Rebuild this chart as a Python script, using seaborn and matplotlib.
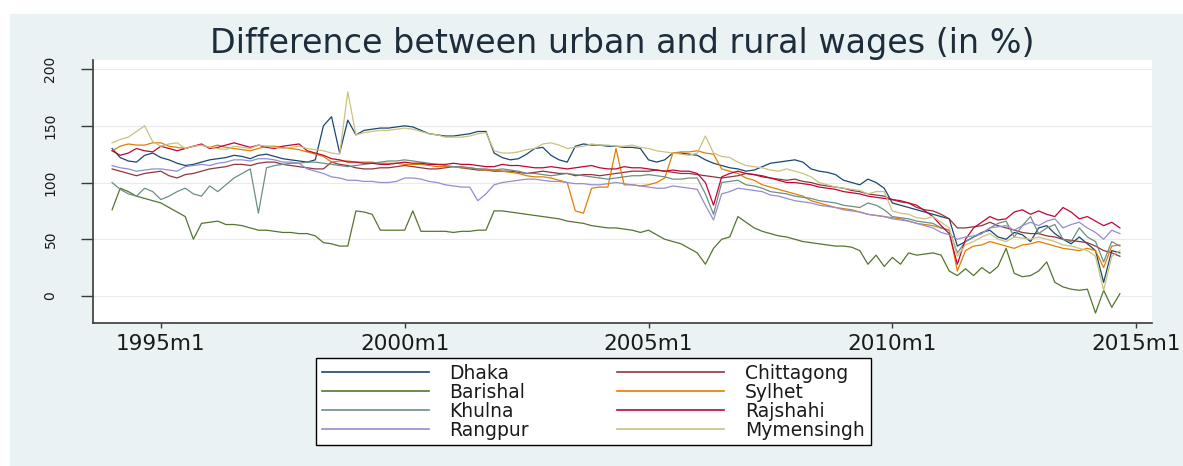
import numpy as np
import pandas as pd
import matplotlib
matplotlib.use("Agg")
import matplotlib.pyplot as plt
from matplotlib.patches import Rectangle
from matplotlib.lines import Line2D
import seaborn as sns

# ---- data: Stata monthly dates (months since 1960m1), bimonthly readings ----
months = list(range(408, 658, 2))  # 1994m1 ... 2014m9

dhaka = [130,122,119,118,124,126, 122,120,117,115,116,118, 120,121,122,124,123,121,
         124,125,123,121,120,119, 118,120,150,158,126,155, 142,146,147,148,148,149,
         150,149,146,143,142,141, 141,142,143,145,145,126, 122,120,121,125,130,131,
         124,120,118,132,134,133, 133,132,132,131,131,130, 120,118,120,126,126,125,
         124,120,117,115,113,112, 110,111,114,117,118,119, 120,118,112,110,109,107,
         102,100,98,103,100,95, 82,80,78,76,74,72, 70,68,44,48,52,56,
         58,52,50,56,54,48, 60,62,55,50,46,52, 46,40,12,40,38]
chittagong = [112,110,108,106,108,109, 110,106,104,107,108,110, 112,113,114,116,116,115,
              117,118,118,116,115,114, 113,112,112,118,116,115, 113,112,112,113,113,114,
              115,114,113,112,112,113, 114,113,112,111,111,110, 110,110,109,108,109,110,
              109,108,108,106,107,107, 106,107,108,109,110,110, 110,111,110,109,108,108,
              107,106,105,104,105,106, 108,107,106,104,103,102, 103,101,100,98,97,96,
              95,93,92,90,89,88, 85,83,82,78,76,75, 72,68,60,60,61,62,
              65,62,60,58,56,55, 55,53,52,50,49,48, 47,44,40,38,35]
barishal = [76,95,92,88,86,84, 82,78,74,70,50,64, 65,66,63,63,62,60,
            58,58,57,56,56,55, 55,53,47,46,44,44, 75,74,72,58,58,58,
            58,75,57,57,57,57, 56,57,57,58,58,75, 75,74,73,72,71,70,
            69,68,66,65,64,62, 61,60,60,59,58,56, 58,54,50,48,46,42,
            38,28,42,50,52,70, 65,60,57,55,53,52, 50,48,47,46,45,44,
            44,43,40,28,36,26, 34,28,38,36,37,38, 36,22,18,24,18,25,
            20,26,42,20,17,18, 22,30,12,8,6,5, 6,-15,5,-10,2]
sylhet = [128,132,134,133,133,135, 135,132,131,130,132,133, 131,133,131,130,129,128,
          130,132,132,131,130,129, 127,125,123,118,119,119, 118,118,118,117,117,117,
          116,116,116,115,114,114, 114,113,113,112,111,111, 110,109,108,106,105,105,
          104,102,100,75,73,95, 96,96,130,98,98,97, 98,100,104,126,127,127,
          128,126,125,112,110,108, 104,102,98,96,94,92, 90,88,84,82,80,78,
          77,76,74,72,71,70, 69,68,66,64,63,62, 60,58,22,40,44,45,
          48,46,44,42,45,46, 48,46,44,42,41,40, 42,40,25,44,45]
khulna = [100,94,90,88,95,92, 85,88,92,95,90,88, 97,92,98,104,108,112,
          73,113,115,116,117,117, 118,118,117,116,115,114, 115,116,117,118,119,119,
          120,119,118,117,116,115, 114,114,113,112,112,111, 112,111,110,108,108,107,
          106,107,108,107,106,105, 104,103,104,105,106,106, 107,106,105,103,103,104,
          104,90,72,100,101,102, 98,97,95,92,91,90, 88,87,86,84,83,82,
          80,79,78,82,80,76, 70,69,68,66,65,64, 60,58,38,48,52,55,
          60,64,66,52,62,70, 55,60,63,50,48,60, 52,48,30,48,44]
rajshahi = [128,124,126,130,128,127, 132,130,128,130,132,134, 130,131,133,135,133,131,
            133,131,130,132,133,134, 128,126,124,121,120,118, 118,117,117,116,116,117,
            118,117,117,116,116,116, 117,116,116,115,114,114, 116,115,115,114,113,113,
            114,113,112,113,114,115, 113,112,112,114,113,113, 112,111,110,111,110,110,
            108,100,80,105,108,110, 108,107,105,104,102,100, 100,99,98,96,95,94,
            92,91,90,88,87,86, 85,84,82,80,75,70, 62,55,28,50,60,65,
            70,67,68,74,76,72, 75,72,70,78,74,68, 70,66,62,65,60]
rangpur = [115,113,112,110,111,112, 112,111,110,114,115,116, 115,117,118,120,120,119,
           121,121,120,118,118,117, 112,110,108,105,104,102, 102,101,101,100,100,101,
           104,104,103,101,100,98, 97,96,96,84,90,98, 100,101,102,103,103,102,
           101,101,100,99,99,98, 98,99,100,99,98,97, 96,95,95,97,96,95,
           94,80,67,90,92,95, 94,93,92,89,88,86, 84,83,82,80,79,78,
           76,75,74,72,71,70, 68,67,66,64,62,60, 56,54,50,52,53,55,
           60,61,62,58,62,65, 62,66,68,60,63,65, 60,56,50,58,55]
mymensingh = [135,138,140,145,150,136, 132,134,135,130,132,133, 131,130,129,132,131,130,
              133,132,131,130,131,132, 130,129,128,126,125,180, 142,144,145,146,146,147,
              148,147,145,143,142,140, 140,140,141,143,144,128, 126,126,127,129,130,134,
              135,133,130,131,132,134, 133,133,132,132,133,131, 130,128,127,126,125,124,
              126,141,126,123,122,118, 115,114,113,111,110,112, 110,108,105,100,98,96,
              95,94,93,90,92,92, 75,73,72,69,68,70, 65,60,35,45,48,52,
              55,50,48,52,51,50, 52,50,48,45,44,42, 40,35,5,35,40]

regions = ["Dhaka", "Chittagong", "Barishal", "Sylhet",
           "Khulna", "Rajshahi", "Rangpur", "Mymensingh"]
series = [dhaka, chittagong, barishal, sylhet, khulna, rajshahi, rangpur, mymensingh]
colors = ["#1a476f", "#90353b", "#55752f", "#e37e00",
          "#6e8e84", "#c10534", "#938dd2", "#cac27e"]

xticks = [420, 480, 540, 600, 660]
xticklabels = ["1995m1", "2000m1", "2005m1", "2010m1", "2015m1"]
yticks = [0, 50, 100, 150, 200]

df = pd.concat([pd.DataFrame({"month": months, "value": v, "region": r})
                for r, v in zip(regions, series)], ignore_index=True)

# ---- figure ----
W, H = 1183, 466
fig = plt.figure(figsize=(W / 100, H / 100), dpi=100, facecolor="white")
fig.patches.append(Rectangle((10 / W, 0), 1, 1 - 14 / H, transform=fig.transFigure,
                             facecolor="#eaf2f3", edgecolor="none", zorder=-10))
ax = fig.add_axes([93 / W, 1 - 323 / H, (1152 - 93) / W, (323 - 60) / H])
ax.set_facecolor("white")

palette = dict(zip(regions, colors))
sns.lineplot(data=df, x="month", y="value", hue="region", hue_order=regions,
             palette=palette, linewidth=0.9, legend=False, ax=ax, zorder=3)

ax.set_xlim(403.3, 663.9)
ax.set_ylim(-23.8, 208)
ax.set_xticks(xticks)
ax.set_xticklabels(xticklabels)
ax.set_yticks(yticks)
ax.set_yticklabels([str(t) for t in yticks], rotation=90, va="center")
ax.grid(axis="y", color="#e6ecee", linewidth=0.8, zorder=0)
ax.grid(axis="x", visible=False)
ax.set_xlabel("")
ax.set_ylabel("")
for s in ["top", "right"]:
    ax.spines[s].set_visible(False)
for s in ["left", "bottom"]:
    ax.spines[s].set_color("#3a3a3a")
    ax.spines[s].set_linewidth(1.2)
ax.tick_params(axis="y", length=8.6, width=1.0, color="#3a3a3a", pad=17,
               labelsize=10, labelcolor="#1a1a1a")
ax.tick_params(axis="x", length=3.6, width=1.0, color="#3a3a3a", pad=4,
               labelsize=15.5, labelcolor="#1a1a1a")
for lab in ax.get_yticklabels() + ax.get_xticklabels():
    lab.set_family("DejaVu Sans")

fig.text((93 + 1152) / 2 / W, 1 - 43 / H,
         "Difference between urban and rural wages (in %)",
         ha="center", va="center", fontsize=24, color="#1e2d3c", family="DejaVu Sans")

order = ["Dhaka", "Barishal", "Khulna", "Rangpur",
         "Chittagong", "Sylhet", "Rajshahi", "Mymensingh"]
handles = [Line2D([0], [0], color=palette[r], lw=1.2) for r in order]
leg = fig.legend(handles, order, ncol=2, loc="upper left",
                 bbox_to_anchor=(316 / W, 1 - 358 / H), borderaxespad=0,
                 frameon=True, fancybox=False, framealpha=1, edgecolor="black",
                 handlelength=5.7, handletextpad=1.12, columnspacing=4.7,
                 labelspacing=0.0, borderpad=0.3,
                 prop={"family": "DejaVu Sans", "size": 13.5})
leg.get_frame().set_linewidth(1.0)
for t in leg.get_texts():
    t.set_color("#1a1a1a")

fig.savefig("out.png", dpi=100, facecolor=fig.get_facecolor())
